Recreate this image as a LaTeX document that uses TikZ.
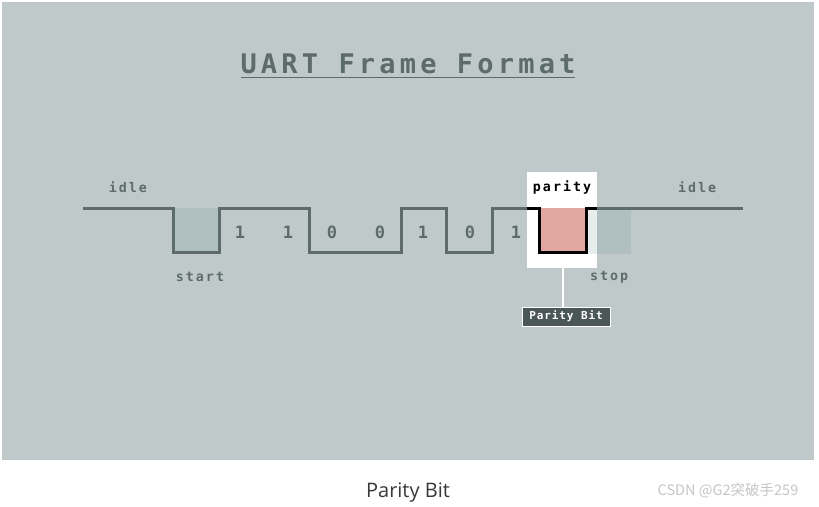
\documentclass[tikz,border=0pt]{standalone}
\usepackage{fontspec}
\setmainfont{Open Sans}
\newfontfamily\monob[LetterSpace=15.5]{DejaVu Sans Mono Bold}
\newfontfamily\monolab[LetterSpace=15]{DejaVu Sans Mono Bold}
\newfontfamily\monobit{DejaVu Sans Mono Bold}
\newfontfamily\monobox[LetterSpace=8]{DejaVu Sans Mono Bold}
\newfontfamily\cjkwm{Noto Sans CJK SC}
\definecolor{panel}{HTML}{BFC9C9}
\definecolor{sig}{HTML}{5E6B6B}
\definecolor{startfill}{HTML}{AFBFC2}
\definecolor{pinkfill}{HTML}{E0A8A0}
\definecolor{tagfill}{HTML}{4B5657}
\definecolor{wm}{HTML}{C6C6C6}
\tikzset{
  lab/.style={text=sig, font=\monolab\fontsize{13.3}{13.3}\selectfont, inner sep=0pt},
  bit/.style={text=sig, font=\monobit\fontsize{17}{17}\selectfont, inner sep=0pt},
  wave/.style={draw=sig, line width=3pt, line join=miter},
}
\begin{document}
\begin{tikzpicture}[x=1pt,y=-1pt]
\useasboundingbox (0,0) rectangle (819,506);
\fill[white] (0,0) rectangle (819,506);
\fill[panel] (2,2) rectangle (814,460);
% title
\node[text=sig, font=\monob\fontsize{27}{27}\selectfont, inner sep=0pt] (title) at (408,64) {UART Frame Format};
\draw[sig, line width=1.5pt] (241,77.5) -- (575,77.5);
% fills
\fill[startfill] (173,208) rectangle (219,252);
\fill[white] (527,172) rectangle (597,268);
\fill[pinkfill] (538,208) rectangle (587,253);
\fill[startfill!30!white] (587,208) rectangle (597,254);
\fill[startfill] (597,208) rectangle (631,254);
% waveform
\coordinate (w0) at (83,208);
\coordinate (pe) at (597,208);
\coordinate (we) at (743,208);
\draw[wave] (w0) -- (173,208) -- (173,252) -- (219,252) -- (219,208) -- (309,208) -- (309,252)
  -- (401,252) -- (401,208) -- (446,208) -- (446,252) -- (492,252) -- (492,208) -- (527,208);
\draw[wave, draw=black] (527,208) -- (539,208) -- (539,252) -- (586,252) -- (586,208) -- (pe);
\draw[wave] (pe) -- (we);
% labels
\node[lab] (idle1) at (128,187) {idle};
\node[lab] (start) at (200,277) {start};
\node[lab] (idle2) at (697,187) {idle};
\node[lab] (stop) at (609,277) {stop};
\node[lab, text=black] (parity) at (562,187) {parity};
\node[bit] (b1) at (240,232) {1};
\node[bit] (b2) at (288,232) {1};
\node[bit] (b3) at (332,232) {0};
\node[bit] (b4) at (380,232) {0};
\node[bit] (b5) at (423,232) {1};
\node[bit] (b6) at (470,232) {0};
\node[bit] (b7) at (516,232) {1};
% tag
\coordinate (pbot) at (563,268);
\node[fill=tagfill, draw=white, line width=1pt, text=white, font=\monobox\fontsize{11}{11}\selectfont,
  minimum width=88pt, minimum height=19pt, inner sep=0pt] (tag) at (566,316.5) {Parity Bit};
\draw[white, line width=1.2pt] (pbot) -- (pbot |- tag.north);
% caption
\node[text=black!78, font=\fontsize{20}{20}\selectfont, inner sep=0pt] (cap) at (408,493) {Parity Bit};
\node[text=wm, font=\cjkwm\fontsize{14.5}{14.5}\selectfont, inner sep=0pt] (wmk) at (728,491) {CSDN @G2突破手259};
\end{tikzpicture}
\end{document}
